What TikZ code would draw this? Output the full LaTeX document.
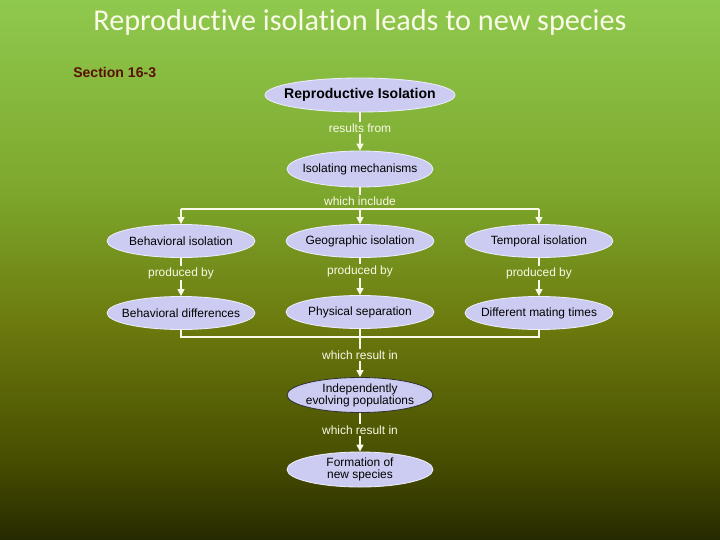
\documentclass[tikz,border=0pt]{standalone}
\usepackage{fontspec}
\setmainfont{Liberation Sans}
\newfontfamily\titlefont[Ligatures={NoCommon,NoRequired}]{Carlito}
\usetikzlibrary{arrows.meta,positioning,shapes.geometric}

\definecolor{bgtop}{RGB}{143,201,78}
\definecolor{bgtwo}{RGB}{125,168,45}
\definecolor{bgthree}{RGB}{108,122,14}
\definecolor{bgfour}{RGB}{72,78,0}
\definecolor{bgbot}{RGB}{38,42,0}
\definecolor{ovalfill}{RGB}{204,204,242}
\definecolor{ovalline}{RGB}{236,236,250}
\definecolor{linecol}{RGB}{250,250,232}
\definecolor{sectcol}{RGB}{90,16,0}

\pgfdeclareverticalshading{slidebg}{100bp}{color(0bp)=(bgbot); color(25bp)=(bgbot);
  color(32.5bp)=(bgfour); color(45bp)=(bgthree); color(57.5bp)=(bgtwo);
  color(75bp)=(bgtop); color(100bp)=(bgtop)}

\begin{document}
\begin{tikzpicture}[x=0.25mm, y=-0.25mm, >={Triangle[width=5pt,length=5pt]}, on grid]
  \tikzset{
    oval/.style={ellipse, draw=ovalline, fill=ovalfill, line width=0.6pt,
      minimum width=37mm, minimum height=8.25mm, inner xsep=-20pt, inner ysep=0pt,
      align=center, font=\fontsize{8.5}{8.5}\selectfont},
    link/.style={text=linecol, inner sep=1pt, font=\fontsize{8.5}{9}\selectfont},
    conn/.style={draw=linecol, line width=1pt}
  }
  \useasboundingbox (0,0) rectangle (720,540);
  \shade[shading=slidebg] (0,0) rectangle (720,540);

  \node[text=linecol, font=\titlefont\fontsize{21.5}{24}\selectfont] (title) at (360,22)
    {Reproductive isolation leads to new species};
  \node[anchor=west, inner sep=0pt, text=sectcol, font=\fontsize{10}{12}\bfseries] (sect) at (73,72)
    {Section 16-3};

  \node[oval, minimum width=47.5mm, minimum height=8.5mm, font=\fontsize{10}{12}\bfseries] (ri) at (360,95)
    {Reproductive Isolation};
  \node[link, below=8.25mm of ri] (lbl1) {results from};
  \node[oval, minimum width=36.5mm, minimum height=9mm, below=10.25mm of lbl1] (im) {Isolating mechanisms};
  \node[link, below=8mm of im] (lbl2) {which include};

  \node[oval, below=10mm of lbl2] (gi) {Geographic isolation};
  \node[oval, left=44.75mm of gi] (bi) {Behavioral isolation};
  \node[oval, right=44.75mm of gi] (ti) {Temporal isolation};

  \node[link, below=8mm of bi] (pb1) {produced by};
  \node[link, below=7.5mm of gi] (pb2) {produced by};
  \node[link, below=8mm of ti] (pb3) {produced by};

  \node[oval, below=10mm of pb1] (bd) {Behavioral differences};
  \node[oval, below=10.25mm of pb2] (ps) {Physical separation};
  \node[oval, below=10mm of pb3] (dm) {Different mating times};

  \node[link, below=10.75mm of ps] (lbl3) {which result in};
  \node[oval, draw=black!80, minimum width=36.5mm, minimum height=8.75mm, below=10mm of lbl3] (iep)
    {Independently\\evolving populations};
  \node[link, below=8.75mm of iep] (lbl4) {which result in};
  \node[oval, minimum width=36.5mm, minimum height=8.75mm, below=9.875mm of lbl4] (fns)
    {Formation of\\new species};

  \coordinate (hub) at (360,209);
  \coordinate (join) at (360,337);

  \draw[conn] (ri) -- (lbl1);
  \draw[conn,->] (lbl1) -- (im);
  \draw[conn] (im) -- (lbl2);
  \draw[conn] (hub -| bi) -- (hub -| ti);
  \draw[conn,->] (hub -| bi) -- (bi);
  \draw[conn,->] (hub) -- (gi);
  \draw[conn,->] (hub -| ti) -- (ti);

  \draw[conn] (bi) -- (pb1);
  \draw[conn] (gi) -- (pb2);
  \draw[conn] (ti) -- (pb3);
  \draw[conn,->] (pb1) -- (bd);
  \draw[conn,->] (pb2) -- (ps);
  \draw[conn,->] (pb3) -- (dm);

  \draw[conn] (bd) -- (bd |- join) -- (dm |- join) -- (dm);
  \draw[conn] (ps) -- (lbl3);
  \draw[conn,->] (lbl3) -- (iep);
  \draw[conn] (iep) -- (lbl4);
  \draw[conn,->] (lbl4) -- (fns);
\end{tikzpicture}
\end{document}
